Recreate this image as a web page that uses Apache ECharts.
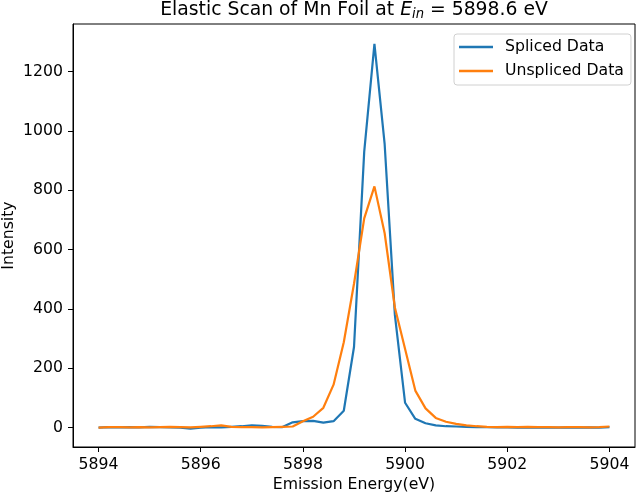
<!DOCTYPE html>
<html>
<head>
<meta charset="utf-8">
<script src="https://cdn.jsdelivr.net/npm/echarts@6/dist/echarts.min.js"></script>
<style>
  html, body { margin: 0; padding: 0; background: #fff; }
  #chart { width: 640px; height: 496px; }
</style>
</head>
<body>
<div id="chart"></div>
<script>
// emission energy (eV), 0.2 eV steps
const energy = [
  5894.0, 5894.2, 5894.4, 5894.6, 5894.8, 5895.0, 5895.2, 5895.4, 5895.6, 5895.8,
  5896.0, 5896.2, 5896.4, 5896.6, 5896.8, 5897.0, 5897.2, 5897.4, 5897.6, 5897.8,
  5898.0, 5898.2, 5898.4, 5898.6, 5898.8, 5899.0, 5899.2, 5899.4, 5899.6, 5899.8,
  5900.0, 5900.2, 5900.4, 5900.6, 5900.8, 5901.0, 5901.2, 5901.4, 5901.6, 5901.8,
  5902.0, 5902.2, 5902.4, 5902.6, 5902.8, 5903.0, 5903.2, 5903.4, 5903.6, 5903.8,
  5904.0
]
const spliced = [
  0, 2, 1, 2, 1, 3, 2, 1, 0, -3,
  0, 2, 1, 3, 5, 8, 6, 3, 2, 18,
  22, 23, 17, 22, 57, 272, 930, 1293, 955, 380,
  84, 30, 15, 8, 5, 4, 3, 2, 2, 1,
  1, 0, 0, 1, 0, 0, 1, 0, 1, 0,
  2
]
const unspliced = [
  0, 2, 2, 1, 2, 1, 2, 3, 2, 1,
  3, 5, 8, 3, 2, 2, 1, 2, 3, 4,
  22, 37, 67, 145, 288, 485, 705, 813, 655, 405,
  265, 125, 65, 33, 20, 13, 8, 5, 3, 2,
  3, 2, 3, 2, 2, 1, 2, 2, 1, 2,
  4
]
const xTicks = [5894, 5896, 5898, 5900, 5902, 5904]
const yTicks = [0, 200, 400, 600, 800, 1000, 1200]

const font = 'DejaVu Sans'
const fs = 15.7
const myChart = echarts.init(document.getElementById('chart'))

function pairs(ys) {
  return energy.map((x, i) => [x, ys[i]])
}

const option = {
  animation: false,
  textStyle: { fontFamily: font },
  graphic: [
    {
      type: 'text',
      x: 354,
      y: 1,
      style: {
        text: '{a|Elastic Scan of Mn Foil at }{e|E}{s|in}{a| = 5898.6 eV}',
        align: 'center',
        verticalAlign: 'top',
        rich: {
          a: { fontFamily: font, fontSize: 18.8, lineHeight: 20, verticalAlign: 'top', fill: '#000' },
          e: { fontFamily: font, fontSize: 18.8, lineHeight: 20, verticalAlign: 'top', fontStyle: 'italic', fill: '#000' },
          s: { fontFamily: font, fontSize: 13.2, lineHeight: 12, padding: [10, 0, 0, 0], verticalAlign: 'bottom', fontStyle: 'italic', fill: '#000' }
        }
      }
    }
  ],
  legend: {
    orient: 'vertical',
    left: 454,
    top: 34,
    padding: [5, 7, 6, 5],
    itemGap: 8,
    itemWidth: 34,
    itemHeight: 2.5,
    icon: 'rect',
    borderColor: '#d0d0d0',
    borderWidth: 1,
    borderRadius: 3,
    textStyle: { fontFamily: font, fontSize: fs, color: '#000', padding: [0, 0, 0, 7] },
    data: ['Spliced Data', 'Unspliced Data']
  },
  grid: {
    left: 73,
    right: 5,
    top: 24,
    bottom: 49,
    outerBoundsMode: 'none',
    containLabel: false,
    show: true,
    borderColor: '#000',
    borderWidth: 1
  },
  xAxis: {
    type: 'value',
    min: 5893.5,
    max: 5904.5,
    name: 'Emission Energy(eV)',
    nameLocation: 'middle',
    nameGap: 30,
    nameMoveOverlap: false,
    nameTextStyle: { fontFamily: font, fontSize: fs, color: '#000' },
    axisLine: { onZero: false, lineStyle: { color: '#000', width: 1 } },
    axisTick: { show: true, length: 5, lineStyle: { color: '#000' }, customValues: xTicks },
    axisLabel: { color: '#000', fontFamily: font, fontSize: fs, margin: 10, customValues: xTicks, formatter: v => String(v) },
    splitLine: { show: false }
  },
  yAxis: {
    type: 'value',
    min: -65,
    max: 1360,
    name: 'Intensity',
    nameLocation: 'middle',
    nameGap: 56,
    nameMoveOverlap: false,
    nameTextStyle: { fontFamily: font, fontSize: fs, color: '#000' },
    axisLine: { show: true, onZero: false, lineStyle: { color: '#000', width: 1 } },
    axisTick: { show: true, length: 5, lineStyle: { color: '#000' }, customValues: yTicks },
    axisLabel: { color: '#000', fontFamily: font, fontSize: fs, margin: 10, customValues: yTicks, formatter: v => String(v) },
    splitLine: { show: false }
  },
  series: [
    {
      name: 'Spliced Data',
      type: 'line',
      data: pairs(spliced),
      symbol: 'none',
      color: '#1f77b4',
      lineStyle: { width: 2.2, color: '#1f77b4' }
    },
    {
      name: 'Unspliced Data',
      type: 'line',
      data: pairs(unspliced),
      symbol: 'none',
      color: '#ff7f0e',
      lineStyle: { width: 2.2, color: '#ff7f0e' }
    }
  ]
}
myChart.setOption(option)
</script>
</body>
</html>
